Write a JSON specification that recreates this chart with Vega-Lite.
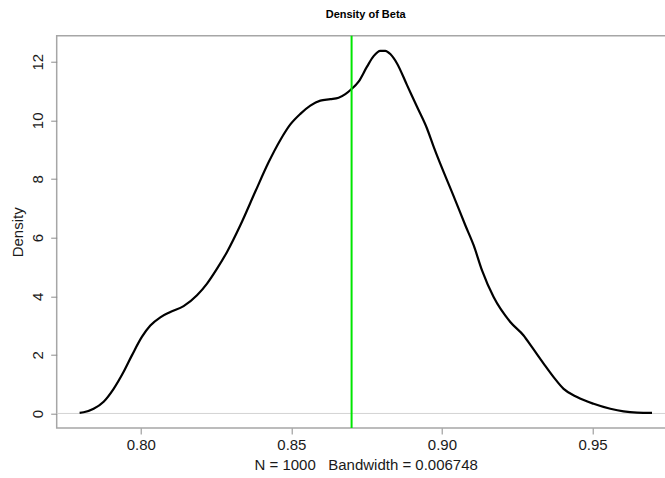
{
  "$schema": "https://vega.github.io/schema/vega-lite/v6.json",
  "autosize": {"type": "none"},
  "padding": {"left": 56.7, "top": 35.7, "right": 0, "bottom": 50},
  "width": 610,
  "height": 392.3,
  "background": "white",
  "title": {
    "text": "Density of Beta",
    "font": "Liberation Sans",
    "fontSize": 11,
    "fontWeight": "bold",
    "color": "#000000",
    "anchor": "middle",
    "dx": 4,
    "offset": 15
  },
  "config": {
    "view": {"stroke": "#a6a6a6", "strokeWidth": 1.5},
    "axis": {
      "labelFont": "Liberation Sans",
      "titleFont": "Liberation Sans",
      "labelFontSize": 15,
      "titleFontSize": 15,
      "titleFontWeight": "normal",
      "labelColor": "#1a1a1a",
      "titleColor": "#1a1a1a",
      "tickColor": "#8c8c8c",
      "tickSize": 6,
      "domain": false,
      "grid": false
    }
  },
  "datasets": {
    "curve": [
      {"x": 0.77967, "density": 0.02},
      {"x": 0.78100, "density": 0.04},
      {"x": 0.78432, "density": 0.16},
      {"x": 0.78765, "density": 0.40},
      {"x": 0.79097, "density": 0.84},
      {"x": 0.79429, "density": 1.42},
      {"x": 0.79708, "density": 1.99},
      {"x": 0.80040, "density": 2.62},
      {"x": 0.80316, "density": 3.00},
      {"x": 0.80648, "density": 3.28},
      {"x": 0.80980, "density": 3.46},
      {"x": 0.81421, "density": 3.66},
      {"x": 0.81866, "density": 4.03},
      {"x": 0.82199, "density": 4.43},
      {"x": 0.82531, "density": 4.94},
      {"x": 0.82863, "density": 5.51},
      {"x": 0.83305, "density": 6.42},
      {"x": 0.83803, "density": 7.57},
      {"x": 0.84235, "density": 8.55},
      {"x": 0.84634, "density": 9.33},
      {"x": 0.84966, "density": 9.86},
      {"x": 0.85298, "density": 10.22},
      {"x": 0.85630, "density": 10.50},
      {"x": 0.85962, "density": 10.67},
      {"x": 0.86294, "density": 10.72},
      {"x": 0.86569, "density": 10.77},
      {"x": 0.86792, "density": 10.89},
      {"x": 0.86981, "density": 11.05},
      {"x": 0.87233, "density": 11.32},
      {"x": 0.87512, "density": 11.83},
      {"x": 0.87732, "density": 12.19},
      {"x": 0.87954, "density": 12.37},
      {"x": 0.88120, "density": 12.37},
      {"x": 0.88286, "density": 12.26},
      {"x": 0.88509, "density": 11.94},
      {"x": 0.88841, "density": 11.20},
      {"x": 0.89173, "density": 10.46},
      {"x": 0.89505, "density": 9.72},
      {"x": 0.89724, "density": 9.10},
      {"x": 0.90445, "density": 7.27},
      {"x": 0.90777, "density": 6.42},
      {"x": 0.91053, "density": 5.74},
      {"x": 0.91332, "density": 4.88},
      {"x": 0.91717, "density": 3.97},
      {"x": 0.92271, "density": 3.12},
      {"x": 0.92713, "density": 2.66},
      {"x": 0.92992, "density": 2.26},
      {"x": 0.93378, "density": 1.70},
      {"x": 0.93710, "density": 1.24},
      {"x": 0.94042, "density": 0.84},
      {"x": 0.94487, "density": 0.56},
      {"x": 0.95038, "density": 0.33},
      {"x": 0.95593, "density": 0.16},
      {"x": 0.96034, "density": 0.07},
      {"x": 0.96480, "density": 0.03},
      {"x": 0.96978, "density": 0.02}
    ],
    "marker": [{"x": 0.87}],
    "zero": [{"density": 0}]
  },
  "layer": [
    {
      "data": {"name": "zero"},
      "mark": {"type": "rule", "color": "#d4d4d4", "strokeWidth": 1},
      "encoding": {
        "y": {"field": "density", "type": "quantitative", "scale": {"domain": [-0.4956, 12.886], "nice": false, "zero": false}}
      }
    },
    {
      "data": {"name": "curve"},
      "mark": {"type": "line", "color": "#000000", "strokeWidth": 2.2, "interpolate": "monotone"},
      "encoding": {
        "x": {
          "field": "x", "type": "quantitative",
          "scale": {"domain": [0.77206, 0.97465], "nice": false, "zero": false},
          "axis": {
            "values": [0.80, 0.85, 0.90, 0.95],
            "format": ".2f",
            "labelPadding": 4,
            "title": "N = 1000\u00a0\u00a0 Bandwidth = 0.006748",
            "titleX": 309,
            "titleY": 37,
            "titleAlign": "center",
            "titleBaseline": "middle",
            "titleAnchor": null
          }
        },
        "y": {
          "field": "density", "type": "quantitative",
          "scale": {"domain": [-0.4956, 12.886], "nice": false, "zero": false},
          "axis": {
            "values": [0, 2, 4, 6, 8, 10, 12],
            "labelAngle": -90,
            "labelAlign": "center",
            "labelBaseline": "bottom",
            "labelPadding": 5,
            "title": "Density",
            "titleX": -39,
            "titleBaseline": "middle"
          }
        }
      }
    },
    {
      "data": {"name": "marker"},
      "mark": {"type": "rule", "color": "#00e600", "strokeWidth": 2},
      "encoding": {
        "x": {"field": "x", "type": "quantitative"}
      }
    }
  ]
}
